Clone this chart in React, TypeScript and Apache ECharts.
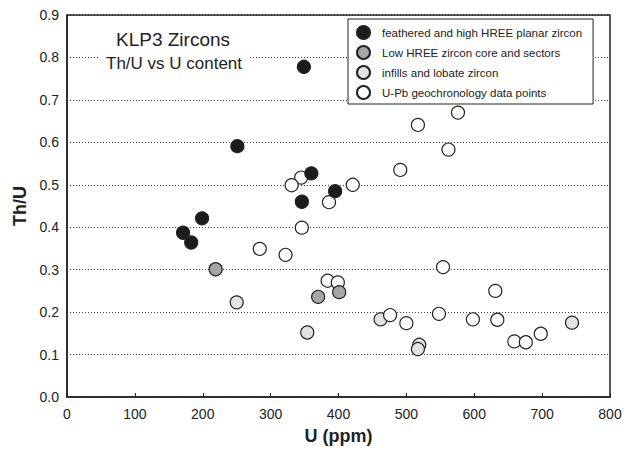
import React, { useEffect, useRef } from "react";
import * as echarts from "echarts";

const FONT = "'Liberation Sans', Arial, Helvetica, sans-serif";

// [U (ppm), Th/U]
const featheredPlanar: [number, number][] = [
  [349, 0.778], [251, 0.591], [360, 0.527], [395, 0.485],
  [346, 0.46], [199, 0.421], [171, 0.387], [183, 0.364],
];
const lowHreeCore: [number, number][] = [
  [219, 0.301], [401, 0.247], [370, 0.236],
];
const infillsLobate: [number, number][] = [
  [250, 0.223], [462, 0.183], [354, 0.152], [519, 0.123], [517, 0.113], [744, 0.175],
];
const uPbPoints: [number, number][] = [
  [576, 0.67], [517, 0.641], [562, 0.583], [491, 0.535], [345, 0.517],
  [331, 0.499], [421, 0.5], [386, 0.459], [346, 0.399], [284, 0.349],
  [322, 0.335], [554, 0.306], [384, 0.274], [399, 0.27], [631, 0.25],
  [476, 0.193], [500, 0.174], [548, 0.196], [598, 0.183], [634, 0.182],
  [659, 0.131], [676, 0.129], [698, 0.149],
];

const seriesNames = [
  "feathered and high HREE planar zircon",
  "Low HREE zircon core and sectors",
  "infills and lobate zircon",
  "U-Pb geochronology data points",
];
const titleText = "KLP3 Zircons";
const subtitleText = "Th/U vs U content";
const xName = "U (ppm)";
const yName = "Th/U";

export default function App() {
  const ref = useRef<HTMLDivElement>(null);
  useEffect(() => {
    const chart = echarts.init(ref.current!, null, { renderer: "svg" });
    const mk = (name: string, data: [number, number][], fill: string, z: number) => ({
      name,
      type: "scatter",
      data,
      z,
      symbol: "circle",
      symbolSize: 13,
      itemStyle: { color: fill, borderColor: "#222", borderWidth: 1.2, opacity: 1 },
      emphasis: { disabled: true },
    });
    chart.setOption({
      animation: false,
      backgroundColor: "#fff",
      textStyle: { fontFamily: FONT },
      grid: {
        left: 67,
        right: 18,
        top: 15,
        bottom: 60,
        show: true,
        borderColor: "#222",
        borderWidth: 1.5,
        backgroundColor: "transparent",
        z: 3,
      },
      xAxis: {
        type: "value",
        min: 0,
        max: 800,
        interval: 100,
        name: xName,
        nameLocation: "middle",
        nameGap: 30,
        nameTextStyle: { fontSize: 18, fontWeight: "bold", color: "#222", fontFamily: FONT },
        axisLine: { show: true, onZero: false, lineStyle: { color: "#222", width: 1.5 } },
        axisTick: { show: true, inside: true, length: 4, lineStyle: { color: "#222", width: 1 } },
        axisLabel: { fontSize: 14, color: "#222", margin: 10, fontFamily: FONT },
        splitLine: { show: false },
      },
      yAxis: {
        type: "value",
        min: 0,
        max: 0.9,
        interval: 0.1,
        name: yName,
        nameLocation: "middle",
        nameGap: 36,
        nameTextStyle: { fontSize: 18, fontWeight: "bold", color: "#222", fontFamily: FONT },
        axisLine: { show: true, onZero: false, lineStyle: { color: "#222", width: 1.5 } },
        axisTick: { show: false },
        axisLabel: {
          fontSize: 14,
          color: "#222",
          margin: 8,
          fontFamily: FONT,
          formatter: (v: number) => v.toFixed(1),
        },
        splitLine: { show: true, lineStyle: { color: "#444", width: 1, type: [1, 2] } },
      },
      legend: {
        data: seriesNames,
        orient: "vertical",
        left: 348,
        top: 19,
        backgroundColor: "#fff",
        borderColor: "#222",
        borderWidth: 1,
        borderRadius: 0,
        padding: [6, 11, 4, 8],
        itemGap: 5,
        itemWidth: 19,
        itemHeight: 13,
        icon: "circle",
        selectedMode: false,
        textStyle: {
          fontSize: 11.5,
          lineHeight: 13,
          color: "#222",
          fontFamily: FONT,
          padding: [0, 0, 0, 4],
        },
        z: 10,
      },
      graphic: [
        {
          type: "text",
          left: 116,
          top: 30,
          z: 10,
          style: { text: titleText, fontSize: 19, fill: "#222", fontFamily: FONT },
        },
        {
          type: "text",
          left: 98,
          top: 53,
          z: 10,
          style: {
            text: subtitleText,
            fontSize: 17,
            fill: "#222",
            fontFamily: FONT,
            backgroundColor: "#fff",
            padding: [2, 8],
          },
        },
      ],
      series: [
        mk(seriesNames[2], infillsLobate, "#e2e2e2", 2),
        mk(seriesNames[3], uPbPoints, "#ffffff", 3),
        mk(seriesNames[1], lowHreeCore, "#a6a6a6", 4),
        mk(seriesNames[0], featheredPlanar, "#1c1c1c", 5),
      ],
    });
    return () => chart.dispose();
  }, []);
  return (
    <div
      ref={ref}
      style={{ position: "fixed", left: 0, top: 0, width: 628, height: 457, background: "#fff" }}
    />
  );
}
